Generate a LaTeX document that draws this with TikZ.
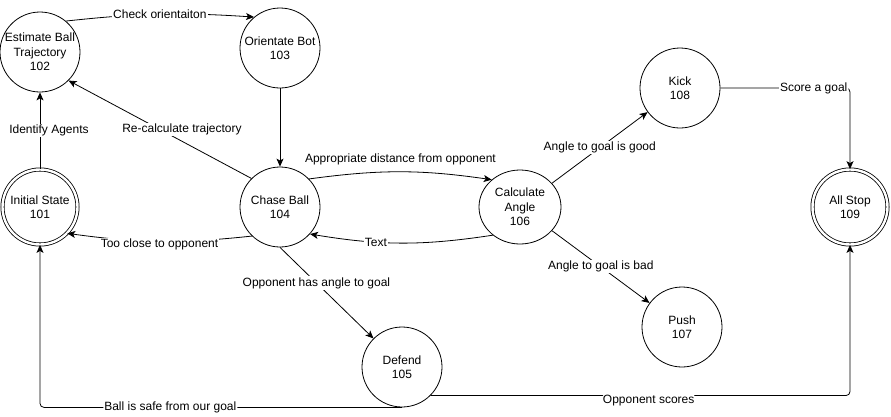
\documentclass[tikz,border=0pt]{standalone}
\usepackage{fontspec}
\setmainfont{Liberation Sans}
\usetikzlibrary{arrows.meta,shapes.geometric}
\tikzstyle{state} = [circle, draw=black, minimum size=80pt, inner sep=0pt, align=center, line width=0.8pt]
\tikzstyle{oval} = [ellipse, draw=black, minimum width=82pt, minimum height=74pt, inner sep=0pt, align=center, line width=0.8pt]
\tikzstyle{final} = [circle, draw=black, double, double distance=2.4pt, minimum size=75pt, inner sep=0pt, align=center, line width=0.8pt]
\tikzstyle{arrow} = [line width=0.8pt,->,>={Stealth[length=8pt,width=7pt,inset=2pt]}]
\tikzstyle{lbl} = [fill=white, inner sep=1pt]

\begin{document}
\begin{tikzpicture}[x=1pt, y=-1pt, font=\fontsize{12}{14.5}\selectfont]
\useasboundingbox (0,0) rectangle (891,416);
%states
\node (s102) [state] at (40,52) {Estimate Ball\\Trajectory\\102};
\node (s103) [state] at (280,48) {Orientate Bot\\103};
\node (s101) [final] at (40,207) {Initial State\\101};
\node (s104) [state] at (280,207) {Chase Ball\\104};
\node (s106) [oval] at (520,207) {Calculate\\Angle\\106};
\node (s108) [state] at (680,88) {Kick\\108};
\node (s107) [state] at (682,327) {Push\\107};
\node (s105) [state] at (402,367) {Defend\\105};
\node (s109) [final] at (850,207) {All Stop\\109};

%transitions
\draw [arrow](s101) -- node[lbl, xshift=9pt] {Identify Agents} (s102);
\draw [arrow](s102.50) to[bend left=5] node[lbl] {Check orientaiton} (s103.130);
\draw [arrow](s103) -- (s104);
\draw [arrow](s104.135) -- node[lbl, pos=0.38, yshift=12pt] {Re-calculate trajectory} (s102.-45);
\draw [arrow](s104.226) to[bend left=7] node[lbl, yshift=-3pt] {Too close to opponent} (s101.-44);
\draw [arrow](s104.44) to[bend left=8] node[above=3pt] {Appropriate distance from opponent} (s106.136);
\draw [arrow](s106.226) to[bend left=9] node[lbl, pos=0.65] {Text} (s104.-42);
\draw [arrow](s106) -- node[lbl] {Angle to goal is good} (s108);
\draw [arrow](s106) -- node[lbl] {Angle to goal is bad} (s107);
\draw [arrow, rounded corners=4pt](s108) -| node[lbl, pos=0.36] {Score a goal} (s109);
\draw [arrow](s104.south) -- node[lbl, pos=0.39] {Opponent has angle to goal} (s105.135);
\draw [arrow, rounded corners=4pt](s105.south) -| node[lbl, pos=0.32] {Ball is safe from our goal} (s101.south);
\draw [arrow, rounded corners=4pt](s105.-45) -| node[lbl, pos=0.26, yshift=-5pt] {Opponent scores} (s109.south);
\end{tikzpicture}
\end{document}
